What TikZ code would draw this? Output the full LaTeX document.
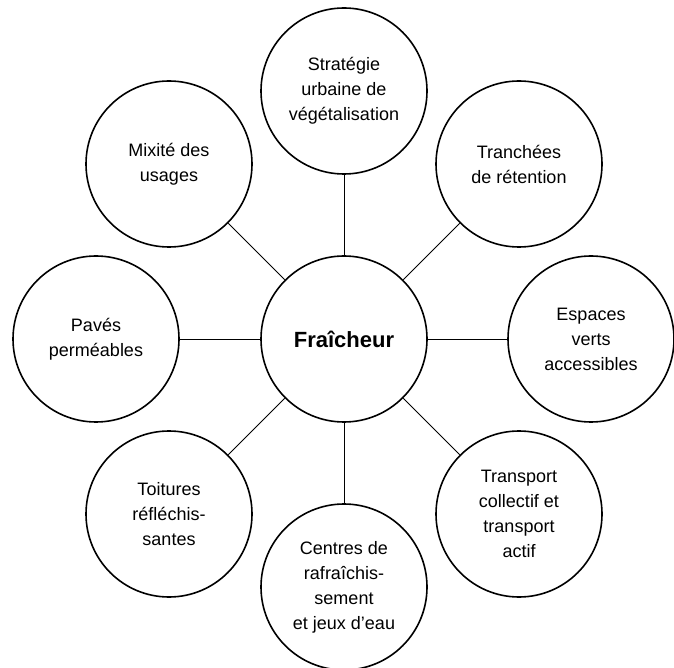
\documentclass[tikz,border=0pt]{standalone}
\usepackage{fontspec}
\setmainfont{Liberation Sans}
\usepackage{tikz}

\tikzset{
  idee/.style={draw=black, line width=1.6pt, circle, minimum size=166pt, inner sep=0pt,
    align=center, font=\fontsize{18}{25}\selectfont},
  coeur/.style={idee, font=\fontsize{22}{26}\selectfont\bfseries},
  lien/.style={line width=0.9pt, black}
}

\begin{document}
\begin{tikzpicture}[x=1pt, y=1pt]
\useasboundingbox (0,0) rectangle (674,667);
\node[coeur] (hub) at (344, 328) {Fraîcheur};
\node[idee] (strategie) at (344, 576) {Stratégie\\urbaine de\\végétalisation};
\node[idee] (tranchees) at (519, 503) {Tranchées\\de rétention};
\node[idee] (espaces) at (591, 328) {Espaces\\verts\\accessibles};
\node[idee] (transport) at (519, 153) {Transport\\collectif et\\transport\\actif};
\node[idee] (centres) at (344, 80) {Centres de\\rafraîchis-\\sement\\et jeux d'eau};
\node[idee] (toitures) at (169, 153) {Toitures\\réfléchis-\\santes};
\node[idee] (paves) at (96, 328) {Pavés\\perméables};
\node[idee] (mixite) at (169, 503) {Mixité des\\usages};
\draw[lien] (hub) -- (strategie);
\draw[lien] (hub) -- (tranchees);
\draw[lien] (hub) -- (espaces);
\draw[lien] (hub) -- (transport);
\draw[lien] (hub) -- (centres);
\draw[lien] (hub) -- (toitures);
\draw[lien] (hub) -- (paves);
\draw[lien] (hub) -- (mixite);
\end{tikzpicture}
\end{document}
